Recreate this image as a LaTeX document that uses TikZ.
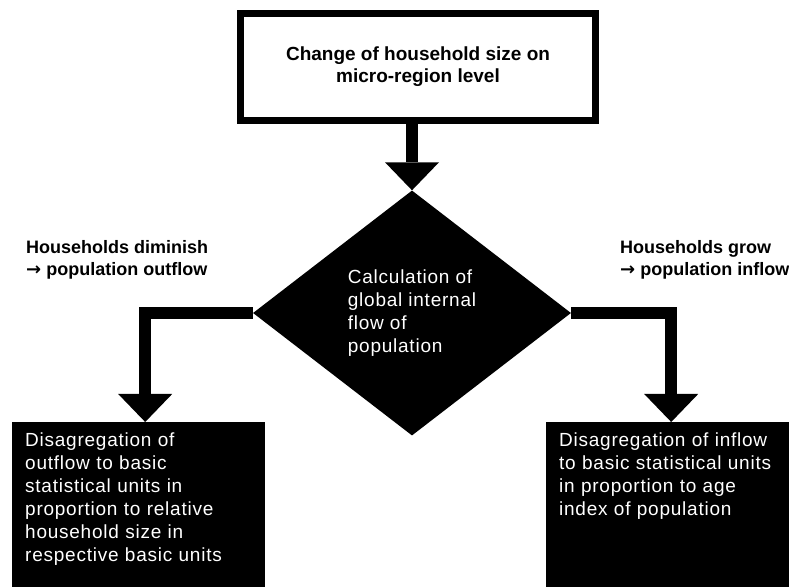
\documentclass[tikz,border=0pt]{standalone}
\usepackage{fontspec}
\setmainfont{Liberation Sans}
\newfontfamily\boxfont[LetterSpace=4]{Liberation Sans}
\newfontfamily\arrowfont{DejaVu Sans}
\newcommand{\flowto}{{\arrowfont\bfseries →}}
\usetikzlibrary{shapes.geometric,arrows.meta}
\begin{document}
\begin{tikzpicture}[x=1pt,y=1pt,
    bigarrow/.style={line width=12pt,-{Triangle[width=54pt,length=28pt,line width=0pt]}},
    blackbox/.style={fill=black,text=white,align=left,anchor=north west,inner xsep=13pt,inner ysep=11pt,
      text depth=170pt,font=\boxfont\fontsize{19}{23}\selectfont},
    sidetext/.style={align=left,anchor=north west,inner sep=0pt,font=\bfseries\fontsize{18}{22}\selectfont}]
   \useasboundingbox (0,0) rectangle (789,586);
   \node[draw,line width=7pt,minimum width=355pt,minimum height=107pt,inner sep=0pt,align=center,
     font=\bfseries\fontsize{19}{22}\selectfont] (change) at (418,519) {Change of household size on\\micro-region level};
   \node[diamond,fill=black,text=white,minimum width=318pt,minimum height=245pt,inner sep=0pt,align=left,
     font=\boxfont\fontsize{19}{23}\selectfont] (calc) at (412,273) {Calculation of\\global internal\\flow of\\population};
   \node[blackbox,text width=227pt] (outflow) at (12,164) {Disagregation of\\outflow to basic\\statistical units in\\proportion to relative\\household size in\\respective basic units};
   \node[blackbox,text width=224pt] (inflow) at (546,164) {Disagregation of inflow\\to basic statistical units\\in proportion to age\\index of population};
   \node[sidetext] (diminish) at (26,346) {Households diminish\\\flowto{} population outflow};
   \node[sidetext] (grow) at (620,346) {Households grow\\\flowto{} population inflow};
   % arrows between the steps
   \draw[bigarrow] (change.south -| calc.north) -- (calc.north);
   \draw[bigarrow] (calc.west) -| ([xshift=6.5pt]outflow.north);
   \draw[bigarrow] (calc.east) -| (inflow.north);
\end{tikzpicture}
\end{document}
